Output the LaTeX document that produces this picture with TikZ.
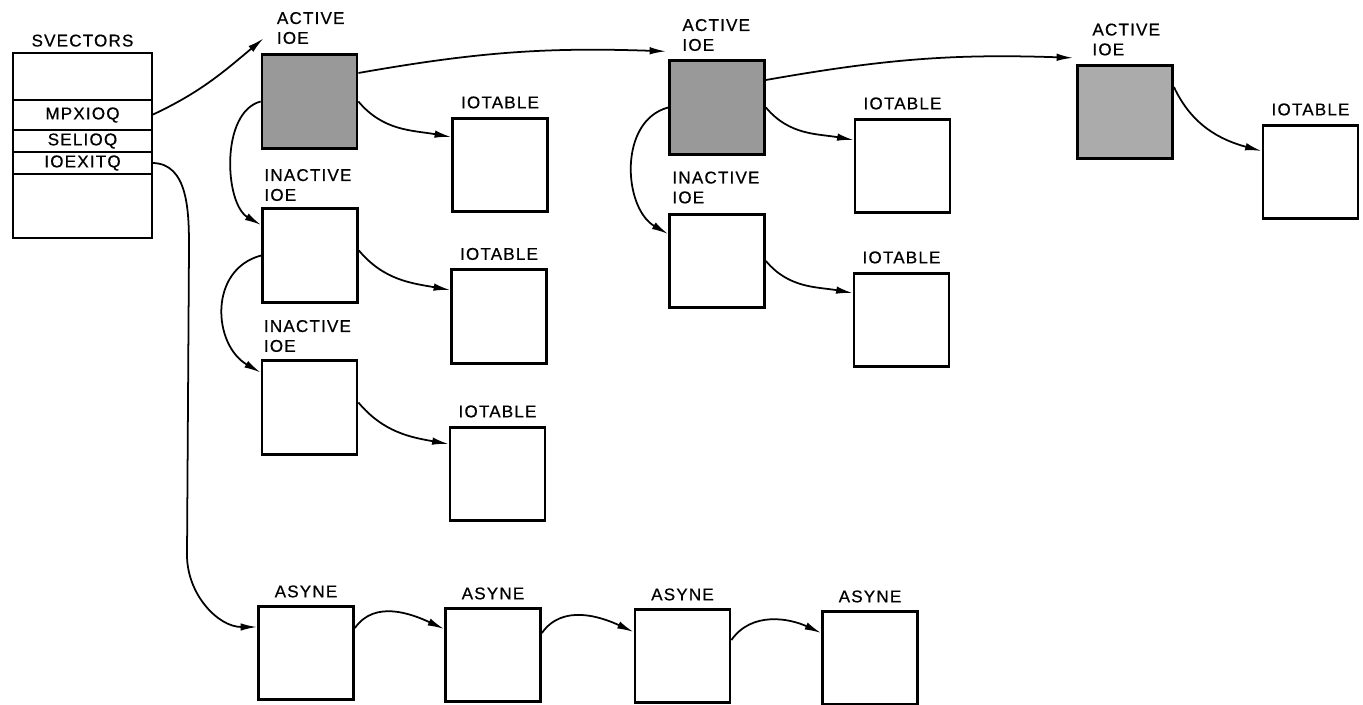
\documentclass[tikz,border=0pt]{standalone}
\usepackage{fontspec}
\setmainfont{Liberation Sans}[LetterSpace=7,FakeBold=0.6]
\usetikzlibrary{arrows.meta,positioning}
\newcommand\figfont{\fontsize{9.7}{11.3}\selectfont}
\definecolor{ioegray}{HTML}{999999}
\definecolor{ioegraylt}{HTML}{ababab}

\begin{document}
\begin{tikzpicture}[
  box/.style={draw=black, line width=1.6pt, fill=white, minimum width=1.9cm, minimum height=1.87cm, inner sep=0},
  actbox/.style={box, fill=ioegray},
  vrow/.style={draw=black, line width=1pt, minimum width=2.78cm, inner sep=0, outer sep=0, font=\figfont},
  lbl/.style={inner sep=0, font=\figfont, align=left},
  ptr/.style={->, line width=1pt},
  >={Latex[length=3.3mm,width=1.5mm]}
]
\useasboundingbox (0,0) rectangle (27.26,14.08);

% system vector table
\node[vrow, minimum height=0.94cm] (v0) at (1.65,12.55) {};
\node[vrow, minimum height=0.6cm, below=0pt of v0] (v1) {MPXIOQ};
\node[vrow, minimum height=0.44cm, below=0pt of v1] (v2) {SELIOQ};
\node[vrow, minimum height=0.44cm, below=0pt of v2] (v3) {IOEXITQ};
\node[vrow, minimum height=1.28cm, below=0pt of v3] (v4) {};
\draw[line width=1.6pt] (v0.north west) rectangle (v4.south east);
\node[lbl, above=0.12cm of v0] (svl) {SVECTORS};

% IOE chains and their IOTABLEs
\node[actbox] (act1) at (6.19,12.05) {};
\node[box] (tab11) at (10.00,10.78) {};
\node[box] (ina1) at (6.20,8.97) {};
\node[box] (tab12) at (9.98,7.75) {};
\node[box] (ina2) at (6.19,5.93) {};
\node[box] (tab13) at (9.95,4.60) {};

\node[actbox] (act2) at (14.34,11.93) {};
\node[box] (tab21) at (18.05,10.76) {};
\node[box] (ina3) at (14.34,8.86) {};
\node[box] (tab22) at (18.03,7.68) {};

\node[actbox, fill=ioegraylt] (act3) at (22.50,11.84) {};
\node[box] (tab31) at (26.21,10.64) {};

\node[lbl, above right=0.18cm and 0.32cm of act1.north west] (act1l) {ACTIVE\\IOE};
\node[lbl, above right=0.12cm and 0.06cm of ina1.north west] (ina1l) {INACTIVE\\IOE};
\node[lbl, above right=0.14cm and 0.06cm of ina2.north west] (ina2l) {INACTIVE\\IOE};
\node[lbl, above right=0.16cm and 0.28cm of act2.north west] (act2l) {ACTIVE\\IOE};
\node[lbl, above right=0.18cm and 0.08cm of ina3.north west] (ina3l) {INACTIVE\\IOE};
\node[lbl, above right=0.16cm and 0.32cm of act3.north west] (act3l) {ACTIVE\\IOE};

\foreach \t in {tab11,tab12,tab13,tab21,tab22,tab31}{
  \node[lbl, above=0.16cm of \t] (\t l) {IOTABLE};
}

% asynchronous exit queue
\foreach \i/\x/\y in {1/6.12/1.02,2/9.86/0.98,3/13.65/0.96,4/17.40/0.92}{
  \node[box] (asy\i) at (\x,\y) {};
  \node[lbl, above=0.14cm of asy\i] (asy\i l) {ASYNE};
}

% pointers
\coordinate (in1) at ([shift={(0.06,0.30)}]act1.north west);
\coordinate (in2) at ([shift={(-0.04,0.16)}]act2.north west);
\coordinate (in3) at ([shift={(-0.06,0.12)}]act3.north west);
\draw[ptr] (v1.east) to[out=25,in=-140] (in1);
\draw[ptr] ([yshift=0.57cm]act1.east) to[out=10,in=178] (in2);
\draw[ptr] ([yshift=0.55cm]act2.east) to[out=10,in=178] (in3);

\draw[ptr] (act1.east) to[out=-50,in=170] ([yshift=0.56cm]tab11.west);
\draw[ptr] ([yshift=0.1cm]ina1.east) to[out=-50,in=170] ([yshift=0.53cm]tab12.west);
\draw[ptr] ([yshift=0.1cm]ina2.east) to[out=-50,in=170] ([yshift=0.6cm]tab13.west);
\draw[ptr] (act2.east) to[out=-50,in=170] ([yshift=0.52cm]tab21.west);
\draw[ptr] (ina3.east) to[out=-50,in=170] ([yshift=0.54cm]tab22.west);
\draw[ptr] ([yshift=0.5cm]act3.east) to[out=-65,in=165] ([yshift=0.42cm]tab31.west);

\draw[ptr] (act1.west) to[out=195,in=150,looseness=0.87] ([yshift=0.61cm]ina1.west);
\draw[ptr] (ina1.west) to[out=195,in=150,looseness=1.2] ([yshift=0.7cm]ina2.west);
\draw[ptr] (act2.west) to[out=195,in=150,looseness=1.05] ([yshift=0.54cm]ina3.west);

\draw[ptr] (v3.east) to[out=0,in=90] ++(0.74,-1.7) -- ++(-0.04,-6.14)
  to[out=-90,in=180] ([yshift=0.52cm]asy1.west);
\draw[ptr] ([yshift=0.5cm]asy1.east) to[out=55,in=155] ([yshift=0.52cm]asy2.west);
\draw[ptr] ([yshift=0.44cm]asy2.east) to[out=55,in=155] ([yshift=0.48cm]asy3.west);
\draw[ptr] ([yshift=0.32cm]asy3.east) to[out=55,in=155] ([yshift=0.5cm]asy4.west);
\end{tikzpicture}
\end{document}
